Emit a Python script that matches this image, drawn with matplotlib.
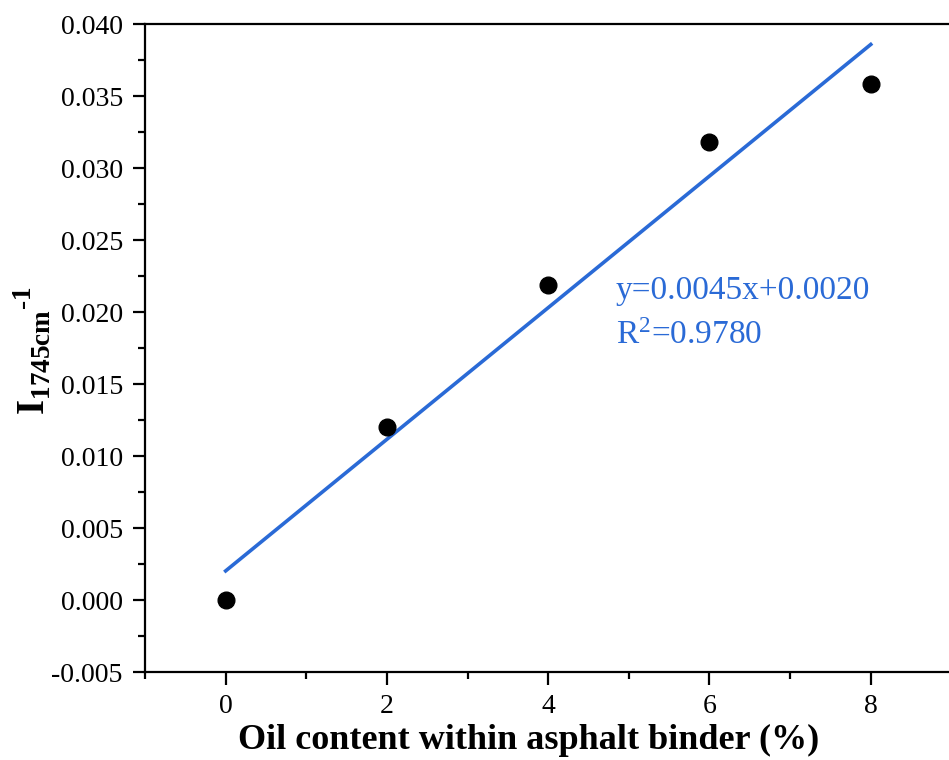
import numpy as np
import matplotlib
matplotlib.use('Agg')
import matplotlib.pyplot as plt
from matplotlib.ticker import MultipleLocator

# data
oil_content = [0, 2, 4, 6, 8]
carbonyl_index = [0.0000, 0.0120, 0.0219, 0.0318, 0.0358]
fit_label = 'y=0.0045x+0.0020'
r2_label = r'R$^2$=0.9780'

plt.rcParams['font.family'] = ['Liberation Serif', 'DejaVu Serif']
plt.rcParams['mathtext.fontset'] = 'custom'
plt.rcParams['mathtext.rm'] = 'Liberation Serif'
plt.rcParams['mathtext.bf'] = 'Liberation Serif:bold'
plt.rcParams['mathtext.it'] = 'Liberation Serif:italic'

fig = plt.figure(figsize=(9.49, 7.6), dpi=100)
ax = fig.add_axes([145 / 949, 1 - 672 / 760, (951.4 - 145) / 949, (672 - 24) / 760])

blue = '#2a6ad6'

# linear fit
k, b = np.polyfit(oil_content, carbonyl_index, 1)
xf = np.array([oil_content[0], oil_content[-1]])
ax.plot(xf, k * xf + b, color=blue, lw=2.6, zorder=2)
ax.plot(oil_content, carbonyl_index, 'o', color='black', ms=12, zorder=3)

ax.text(4.84, 0.0209, fit_label, color=blue, fontsize=24, va='baseline')
ax.text(4.84, 0.0178, r2_label, color=blue, fontsize=24, va='baseline')

ax.set_xlim(-1, 9)
ax.set_ylim(-0.005, 0.040)
ax.xaxis.set_major_locator(MultipleLocator(2))
ax.xaxis.set_minor_locator(MultipleLocator(1))
ax.yaxis.set_major_locator(MultipleLocator(0.005))
ax.yaxis.set_minor_locator(MultipleLocator(0.0025))
ax.yaxis.set_major_formatter(plt.FuncFormatter(lambda v, p: '%.3f' % v))

for s in ax.spines.values():
    s.set_linewidth(1.6)
ax.tick_params(which='major', direction='out', length=9, width=1.6, labelsize=20, pad=7)
ax.tick_params(which='minor', direction='out', length=5, width=1.6)

ax.set_xlabel('Oil content within asphalt binder (%)', fontsize=26, fontweight='bold')
ax.xaxis.set_label_coords((528.5 - 145) / 806.4, -(724 - 672) / 648)
ax.set_ylabel(r'$\mathbf{I}_{\mathbf{1745cm}}{}^{\mathbf{\text{-}1}}$', fontsize=28)
ax.yaxis.set_label_coords(-(145 - 54) / 806.4, (672 - 350) / 648)

fig.savefig('out.png', dpi=100)
